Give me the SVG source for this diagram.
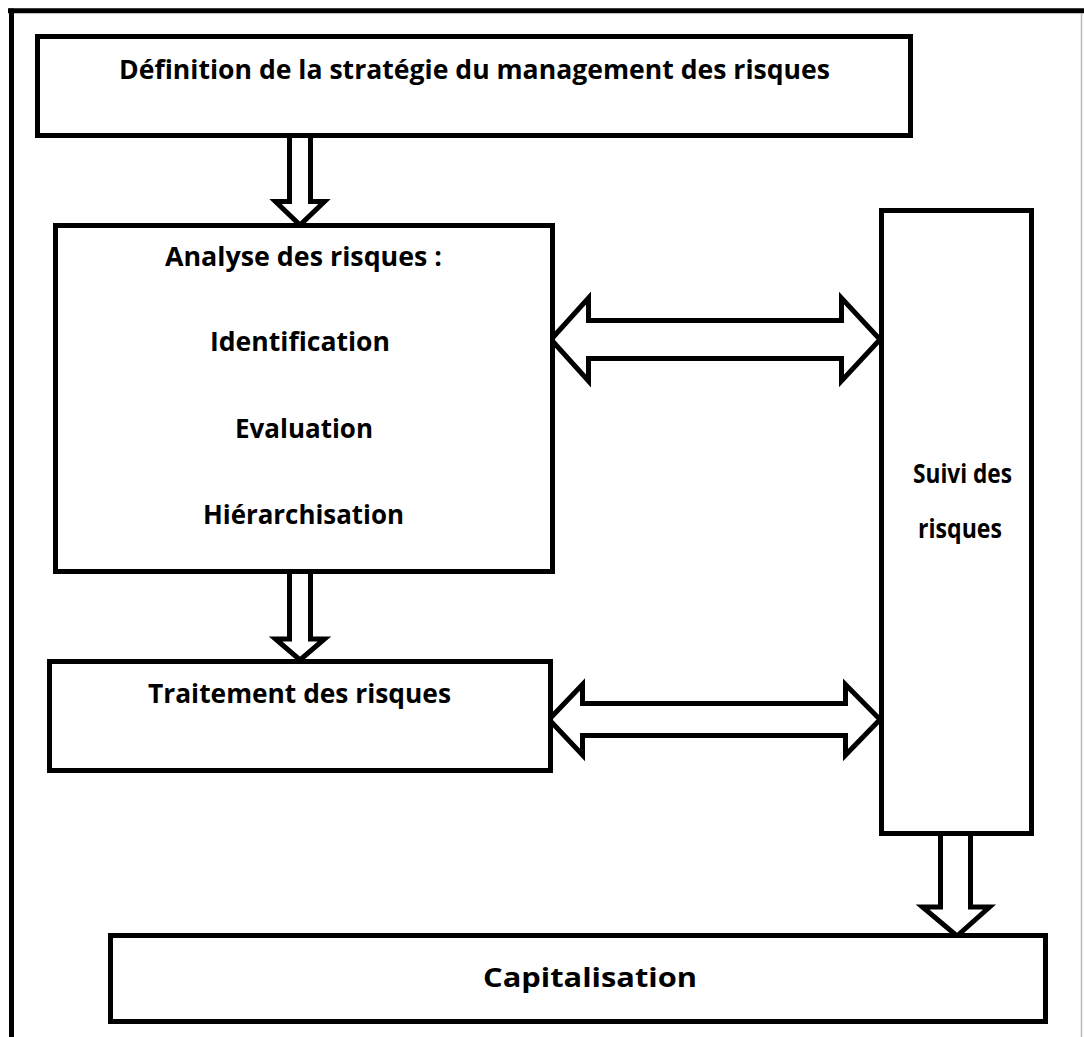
<svg xmlns="http://www.w3.org/2000/svg" width="1084" height="1037" viewBox="0 0 1084 1037">
  <style>
    .box { fill: #ffffff; stroke: #000000; stroke-width: 5; }
    .arrow { fill: #ffffff; stroke: #000000; stroke-width: 5; stroke-linejoin: miter; stroke-miterlimit: 10; }
    .label { font-family: "Open Sans", "Liberation Sans", sans-serif; font-weight: bold; font-size: 27px; fill: #000000; text-anchor: middle; }
  </style>
  <rect x="0" y="0" width="1084" height="1037" fill="#ffffff"/>

  <!-- outer frame -->
  <g id="frame">
    <line x1="8" y1="10.8" x2="1084" y2="10.8" stroke="#000000" stroke-width="5"/>
    <line x1="11.5" y1="8.5" x2="11.5" y2="1037" stroke="#000000" stroke-width="5"/>
    <line x1="1081.5" y1="13" x2="1081.5" y2="1037" stroke="#b8b8b8" stroke-width="1.5"/>
  </g>

  <!-- connectors: hollow block arrows -->
  <g id="connectors">
    <!-- strategy -> analyse -->
    <path class="arrow" d="M289.5,136 V201.5 H275.5 L300,225 L324.5,201.5 H310.5 V136"/>
    <!-- analyse -> traitement -->
    <path class="arrow" d="M289.5,572 V639 H275.5 L300,660 L324.5,639 H310.5 V572"/>
    <!-- suivi -> capitalisation -->
    <path class="arrow" d="M940.5,834 V907 H922.5 L957,936 L989.5,907 H970.5 V834"/>
    <!-- analyse <-> suivi -->
    <polygon class="arrow" points="551,339.5 588.5,298 588.5,320.5 841.5,320.5 841.5,298 880,339.5 841.5,381 841.5,358.5 588.5,358.5 588.5,381"/>
    <!-- traitement <-> suivi -->
    <polygon class="arrow" points="549,719.5 582.5,684.5 582.5,703.5 845.5,703.5 845.5,684.5 880,719.5 845.5,755 845.5,735.5 582.5,735.5 582.5,755"/>
  </g>

  <g id="strategie">
    <rect class="box" x="37.5" y="36.5" width="873" height="99"/>
    <text class="label" x="474.5" y="79" textLength="711" lengthAdjust="spacingAndGlyphs">Définition de la stratégie du management des risques</text>
  </g>

  <g id="analyse">
    <rect class="box" x="55.5" y="225.5" width="497" height="346"/>
    <text class="label" x="303.5" y="266" textLength="277" lengthAdjust="spacingAndGlyphs">Analyse des risques :</text>
    <text class="label" x="300" y="351" textLength="180" lengthAdjust="spacingAndGlyphs">Identification</text>
    <text class="label" x="304" y="438" textLength="138" lengthAdjust="spacingAndGlyphs">Evaluation</text>
    <text class="label" x="303.5" y="524" textLength="201" lengthAdjust="spacingAndGlyphs">Hiérarchisation</text>
  </g>

  <g id="traitement">
    <rect class="box" x="49.5" y="661.5" width="501" height="109"/>
    <text class="label" x="299.5" y="703" textLength="303" lengthAdjust="spacingAndGlyphs">Traitement des risques</text>
  </g>

  <g id="suivi">
    <rect class="box" x="881.5" y="210.5" width="150" height="623"/>
    <text class="label" x="962.5" y="483" textLength="99" lengthAdjust="spacingAndGlyphs">Suivi des</text>
    <text class="label" x="960" y="538" textLength="84" lengthAdjust="spacingAndGlyphs">risques</text>
  </g>

  <g id="capitalisation">
    <rect class="box" x="110.5" y="935.5" width="935" height="86"/>
    <text class="label" x="590" y="987" textLength="214" lengthAdjust="spacingAndGlyphs">Capitalisation</text>
  </g>
</svg>
